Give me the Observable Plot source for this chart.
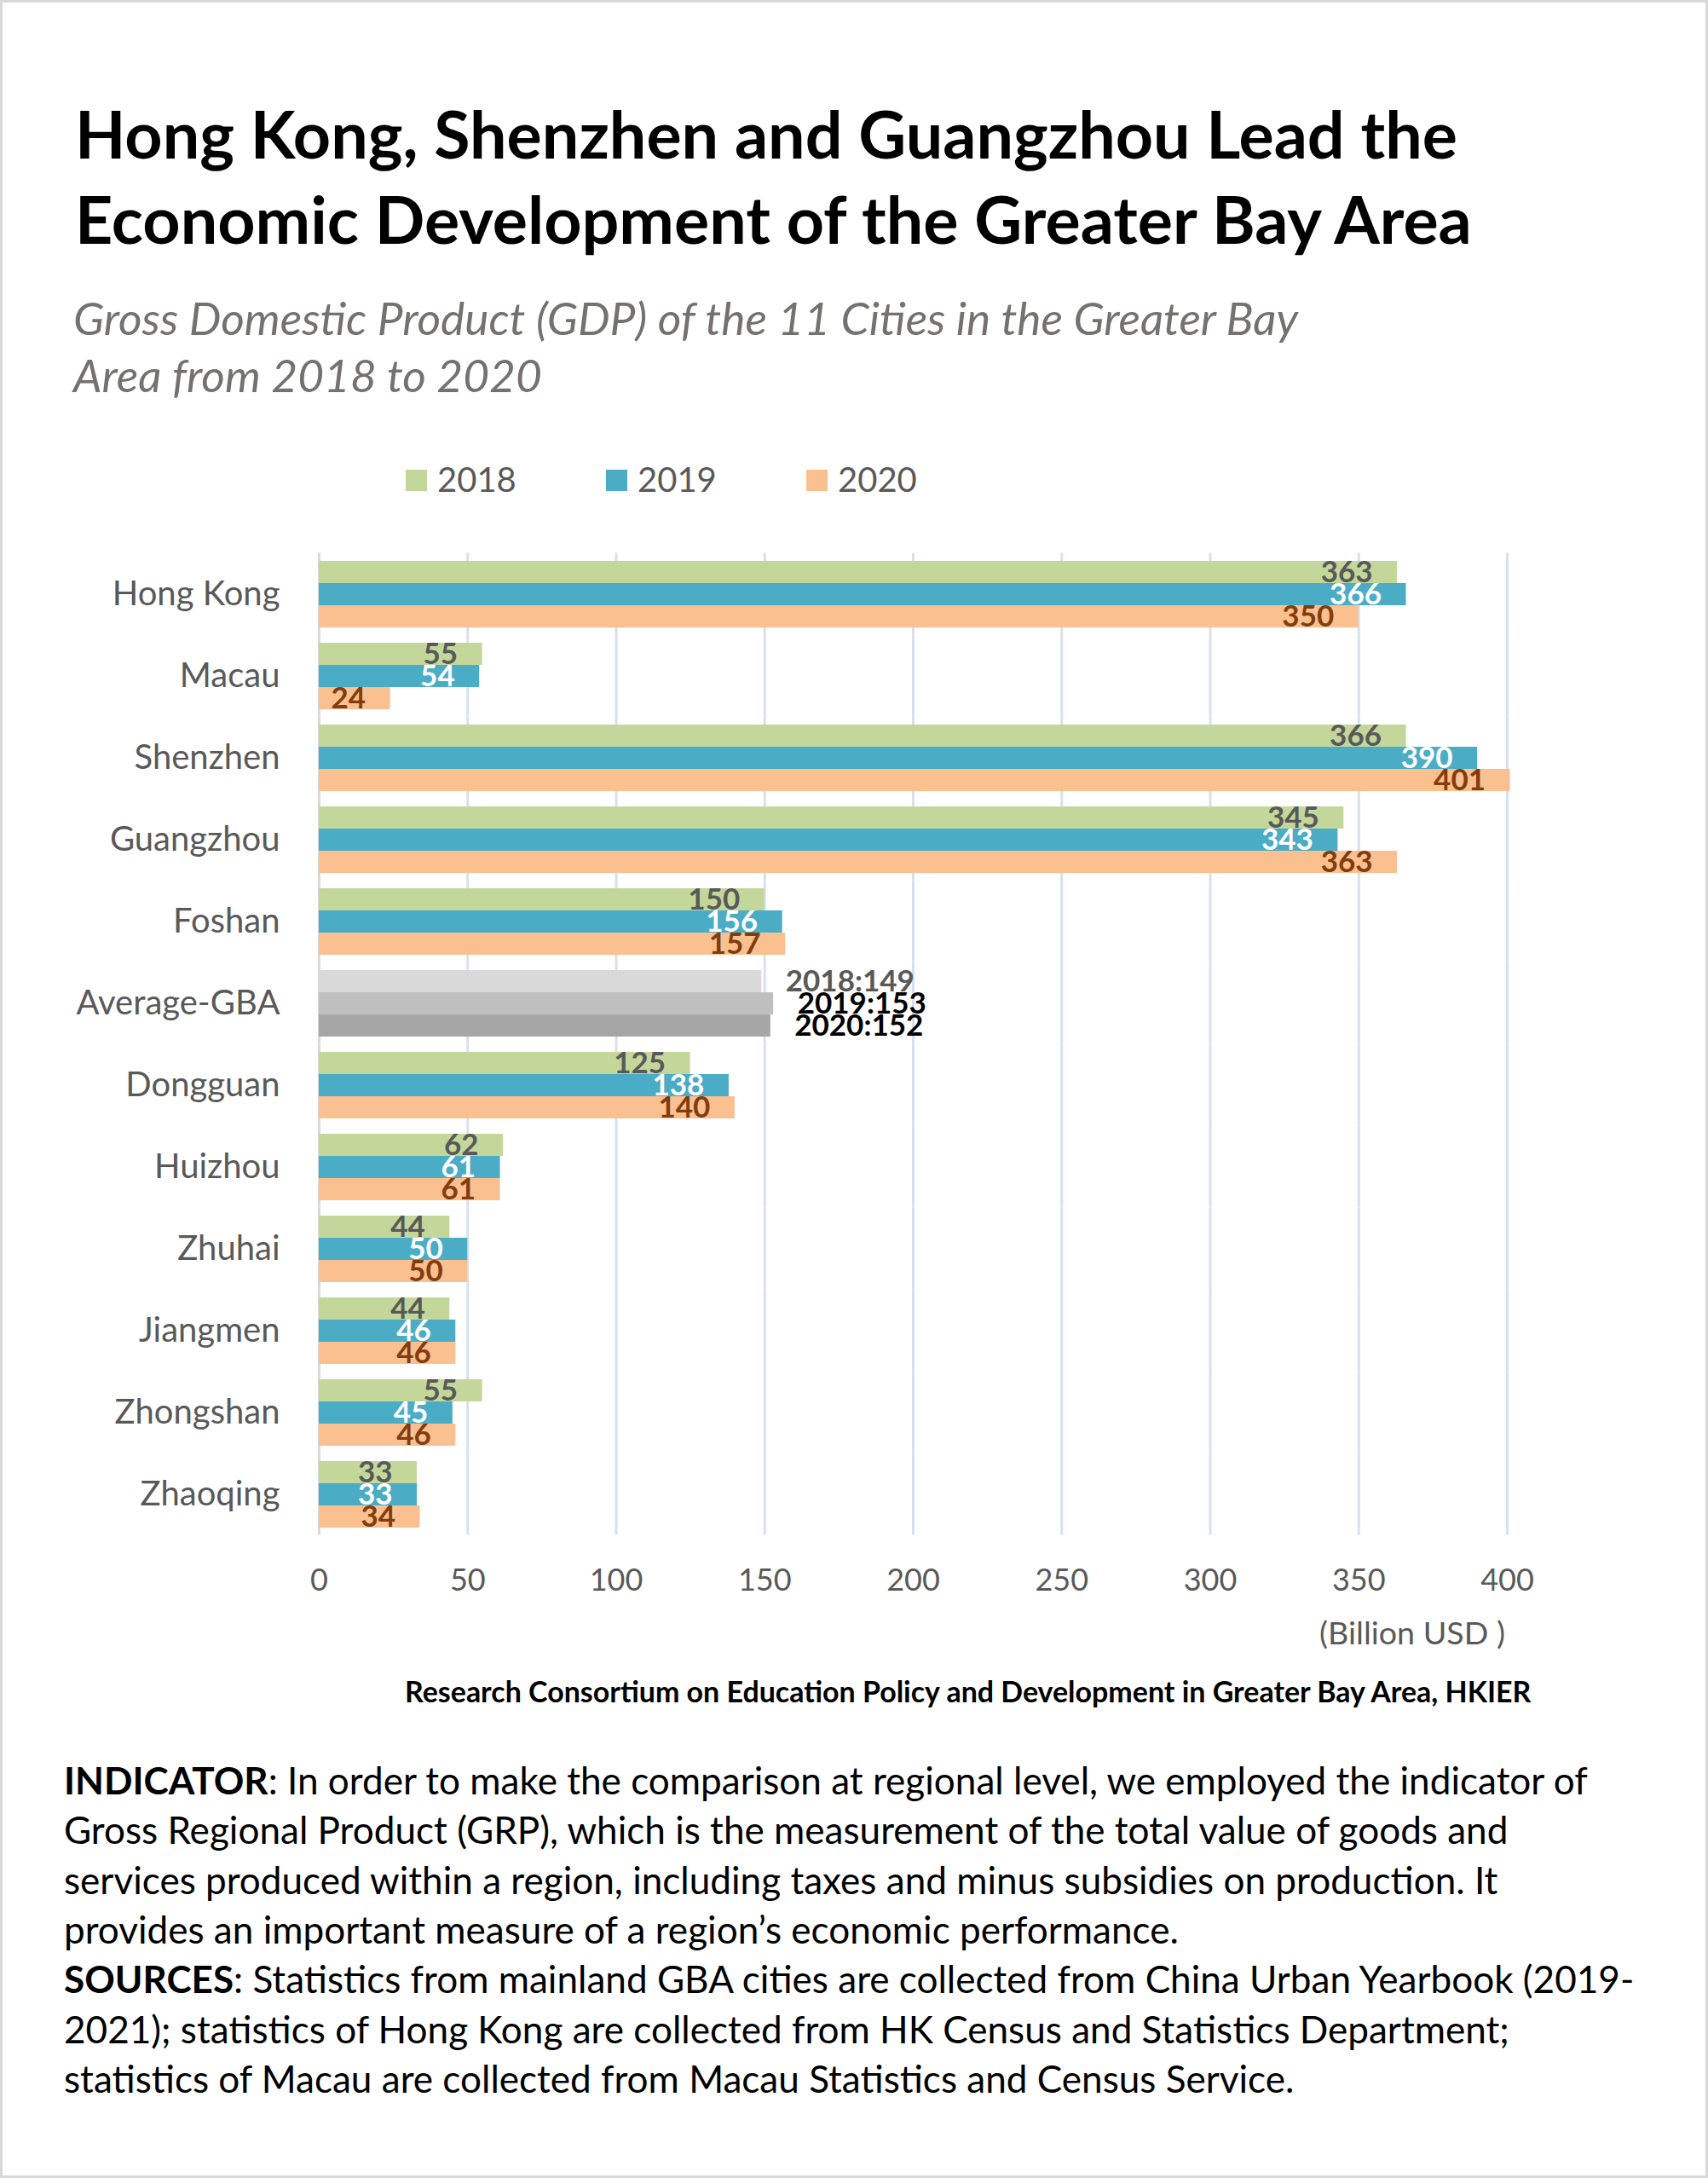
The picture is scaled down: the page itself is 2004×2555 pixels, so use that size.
<!DOCTYPE html>
<html>
<head>
<meta charset="utf-8">
<script src="https://cdn.jsdelivr.net/npm/d3@7"></script>
<script src="https://cdn.jsdelivr.net/npm/@observablehq/plot@0.6"></script>
<style>
  html, body { margin: 0; padding: 0; background: #fff; }
  #page { position: relative; width: 2004px; height: 2555px; background: #fff; overflow: hidden; font-family: Lato, "Open Sans", sans-serif; }
  #frame { position: absolute; left: 0; top: 0; width: 2004px; height: 2555px; box-sizing: border-box; border: 3px solid #D9D9D9; pointer-events: none; }
  .t { position: absolute; white-space: nowrap; }
  #title { font-weight: 700; color: #000; }
  #subtitle { font-style: italic; color: #767171; }
  .sw { position: absolute; width: 25px; height: 25px; }
  .lg { color: #595959; }
  #unit { color: #595959; }
  #source { font-weight: 700; color: #000; }
  #notes { color: #000; }
  #chart { position: absolute; left: 0; top: 600px; }
</style>
</head>
<body>
<div id="page">
  <div id="title" class="t">Hong Kong, Shenzhen and Guangzhou Lead the<br>Economic Development of the Greater Bay Area</div>
  <div id="subtitle" class="t">Gross Domestic Product (GDP) of the 11 Cities in the Greater Bay<br>Area from 2018 to 2020</div>
  <div id="legend"></div>
  <div id="chart"></div>
  <div id="unit" class="t">(Billion USD )</div>
  <div id="source" class="t">Research Consortium on Education Policy and Development in Greater Bay Area, HKIER</div>
  <div id="notes" class="t"><b>INDICATOR</b>: In order to make the comparison at regional level, we employed the indicator of<br>Gross Regional Product (GRP), which is the measurement of the total value of goods and<br>services produced within a region, including taxes and minus subsidies on production. It<br>provides an important measure of a region’s economic performance.<br><b>SOURCES</b>: Statistics from mainland GBA cities are collected from China Urban Yearbook (2019-<br>2021); statistics of Hong Kong are collected from HK Census and Statistics Department;<br>statistics of Macau are collected from Macau Statistics and Census Service.</div>
  <div id="frame"></div>
</div>
<script>
// ---- data ----
const cities = ["Hong Kong", "Macau", "Shenzhen", "Guangzhou", "Foshan", "Average-GBA", "Dongguan", "Huizhou", "Zhuhai", "Jiangmen", "Zhongshan", "Zhaoqing"];
const years = ["2018", "2019", "2020"];
const gdp2018 = [363, 55, 366, 345, 150, 149, 125, 62, 44, 44, 55, 33];
const gdp2019 = [366, 54, 390, 343, 156, 153, 138, 61, 50, 46, 45, 33];
const gdp2020 = [350, 24, 401, 363, 157, 152, 140, 61, 50, 46, 46, 34];
const averageName = "Average-GBA";
const xTicks = [0, 50, 100, 150, 200, 250, 300, 350, 400];

// ---- styles ----
const barColors = ["#C4D79B", "#4BACC6", "#FAC090"];
const avgColors = ["#D9D9D9", "#BFBFBF", "#A6A6A6"];
const labelColors = ["#595959", "#FFFFFF", "#843C0C"];
const avgLabelColors = ["#595959", "#000000", "#000000"];

const series = [gdp2018, gdp2019, gdp2020];
const rows = cities.flatMap((city, i) => years.map((year, j) => ({
  city, year, j, value: series[j][i], avg: city === averageName
})));

// ---- text placement helper (Lato metrics) ----
function place(el, x, baseline, size, lineH, targetWidth) {
  el.style.left = x + "px";
  el.style.fontSize = size + "px";
  el.style.lineHeight = lineH + "px";
  if (targetWidth) {
    const w = el.getBoundingClientRect().width;
    size = size * targetWidth / w;
    el.style.fontSize = size + "px";
  }
  el.style.top = (baseline - (lineH - 1.2 * size) / 2 - 0.987 * size) + "px";
}
place(document.getElementById("title"), 88, 186, 74, 100, 1639);
place(document.getElementById("subtitle"), 86, 393, 48, 67, 1437);
place(document.getElementById("source"), 475, 1997, 31, 37, 1322);
place(document.getElementById("notes"), 75, 2105, 42, 58.4, 1843);
const unit = document.getElementById("unit");
place(unit, 0, 1930, 36, 44, 218);
unit.style.left = (1766 - unit.getBoundingClientRect().width) + "px";

// legend
const legend = document.getElementById("legend");
const swX = [476, 711, 946];
years.forEach((y, j) => {
  const s = document.createElement("div");
  s.className = "sw";
  s.style.left = swX[j] + "px";
  s.style.top = "551px";
  s.style.background = barColors[j];
  legend.appendChild(s);
  const t = document.createElement("div");
  t.className = "t lg";
  t.textContent = y;
  legend.appendChild(t);
  place(t, swX[j] + 37, 577, 40, 48);
});

// ---- chart ----
const chart = Plot.plot({
  width: 2004,
  height: 1280,
  marginLeft: 374,
  marginRight: 236,
  marginTop: 56,
  marginBottom: 86,
  style: {fontFamily: "Lato, sans-serif", fontSize: "36px", color: "#595959", background: "transparent", overflow: "visible"},
  x: {domain: [0, 400], ticks: xTicks, tickSize: 0, tickPadding: 48, label: null, tickFormat: d => String(d)},
  y: {domain: years, padding: 0, axis: null},
  fy: {domain: cities, paddingInner: 0.177, paddingOuter: 0, tickSize: 0, tickPadding: 46, label: null},
  color: {type: "identity"},
  facet: {data: rows, y: "city"},
  marks: [
    Plot.ruleX(xTicks.slice(1), {stroke: "#D6E0EF", strokeWidth: 3, insetTop: -8.5, insetBottom: -8.5}),
    Plot.ruleX([0], {stroke: "#D9D9D9", strokeWidth: 3, insetTop: -8.5, insetBottom: -8.5}),
    Plot.barX(rows, {x: "value", y: "year", fill: d => d.avg ? avgColors[d.j] : barColors[d.j]}),
    Plot.text(rows, {
      filter: d => !d.avg,
      x: "value", y: "year", text: d => String(d.value),
      textAnchor: "end", dx: -29,
      fill: d => labelColors[d.j], fontWeight: 700, fontSize: 35
    }),
    Plot.text(rows, {
      filter: d => d.avg,
      x: "value", y: "year", text: d => `${d.year}:${d.value}`,
      textAnchor: "start", dx: 28,
      fill: d => avgLabelColors[d.j], fontWeight: 700, fontSize: 35
    })
  ]
});
// larger city labels on the facet axis
chart.querySelectorAll('[aria-label^="fy-axis"]').forEach(g => {
  g.setAttribute("font-size", 40);
  g.querySelectorAll("text").forEach(t => t.setAttribute("font-size", 40));
});
document.getElementById("chart").appendChild(chart);
</script>
</body>
</html>
